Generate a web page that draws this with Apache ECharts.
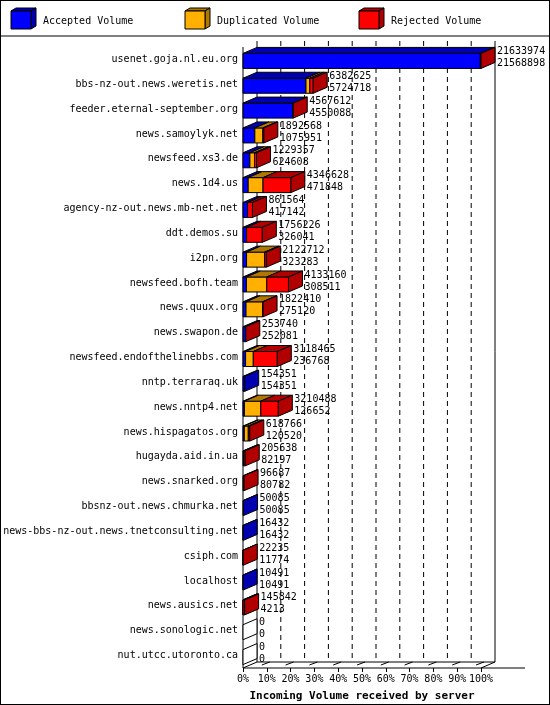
<!DOCTYPE html>
<html>
<head>
<meta charset="utf-8">
<script src="https://cdn.jsdelivr.net/npm/echarts@6/dist/echarts.min.js"></script>
<style>
  html, body { margin: 0; padding: 0; background: #fff; }
  #chart { width: 548px; height: 703px; border: 1px solid #000; }
</style>
</head>
<body>
<div id="chart"></div>
<script>
// servers, top to bottom
const servers = ['usenet.goja.nl.eu.org', 'bbs-nz-out.news.weretis.net', 'feeder.eternal-september.org',
  'news.samoylyk.net', 'newsfeed.xs3.de', 'news.1d4.us', 'agency-nz-out.news.mb-net.net', 'ddt.demos.su',
  'i2pn.org', 'newsfeed.bofh.team', 'news.quux.org', 'news.swapon.de', 'newsfeed.endofthelinebbs.com',
  'nntp.terraraq.uk', 'news.nntp4.net', 'news.hispagatos.org', 'hugayda.aid.in.ua', 'news.snarked.org',
  'bbsnz-out.news.chmurka.net', 'news-bbs-nz-out.news.tnetconsulting.net', 'csiph.com', 'localhost',
  'news.ausics.net', 'news.sonologic.net', 'nut.utcc.utoronto.ca'];
// total incoming volume
const totalVol = [21633974, 6382625, 4567612, 1892568, 1229357, 4346628, 861564, 1756226, 2122712, 4133160,
  1822410, 253740, 3118465, 154351, 3210488, 618766, 205638, 96687, 50085, 16432, 22235, 10491, 145842, 0, 0];
const acceptedVol = [21568898, 5724718, 4550088, 1075951, 624608, 471848, 417142, 326041, 323283, 308511,
  275120, 252081, 236768, 154351, 126652, 120520, 82197, 80782, 50085, 16432, 11774, 10491, 4213, 0, 0];
// duplicated volume, estimated from bar segments
const duplicatedVol = [0, 350000, 0, 730000, 420000, 1350000, 0, 0, 1640000, 1850000,
  1500000, 0, 700000, 0, 1490000, 360000, 0, 0, 0, 0, 0, 0, 0, 0, 0];
const xTicks = [0, 10, 20, 30, 40, 50, 60, 70, 80, 90, 100];

const maxVol = Math.max(...totalVol);
const pct = v => v / maxVol * 100;

const FONT = '"DejaVu Sans Mono", monospace';
const DX = 14, DY = 6;
const faces = {
  acc: ['#0000ff', '#0000b0'],
  dup: ['#ffb000', '#b07800'],
  rej: ['#ff0000', '#b00000']
};

const chart = echarts.init(document.getElementById('chart'));

function poly(points, fill) {
  return { type: 'polygon', shape: { points }, style: { fill, stroke: '#000', lineWidth: 1 } };
}

function renderBar(params, api) {
  const i = api.value(0);
  const acc = acceptedVol[i], dup = duplicatedVol[i], rej = totalVol[i] - acc - dup;
  const c = api.coord([0, i]);
  const yTop = c[1] - 6, yBot = c[1] + 9;
  const segs = [[acc, 'acc'], [dup, 'dup'], [rej, 'rej']];
  const children = [];
  let start = 0, lastKey = null;
  segs.forEach(([v, key]) => {
    if (v <= 0) return;
    const x0 = api.coord([pct(start), i])[0];
    const x1 = api.coord([pct(start + v), i])[0];
    children.push(poly([[x0, yTop], [x1, yTop], [x1, yBot], [x0, yBot]], faces[key][0]));
    children.push(poly([[x0, yTop], [x0 + DX, yTop - DY], [x1 + DX, yTop - DY], [x1, yTop]], faces[key][1]));
    start += v;
    lastKey = key;
  });
  const xe = api.coord([pct(start), i])[0];
  children.push(poly([[xe, yTop], [xe + DX, yTop - DY], [xe + DX, yBot - DY], [xe, yBot]],
    lastKey ? faces[lastKey][1] : '#fff'));
  children.push({
    type: 'text',
    style: {
      text: totalVol[i] + '\n' + acceptedVol[i],
      x: xe + DX + 2, y: c[1] - 2, verticalAlign: 'middle',
      font: '10px ' + FONT, fill: '#000', lineHeight: 12
    }
  });
  return { type: 'group', children };
}

function renderFrame(params, api) {
  const n = servers.length;
  const band = api.size([0, 1])[1];
  const top = api.coord([0, 0])[1] - band / 2 - 6;
  const bot = api.coord([0, n - 1])[1] + band / 2;
  const x0 = api.coord([0, 0])[0];
  const x100 = api.coord([100, 0])[0];
  const line = (a, b, dash) => ({
    type: 'line', shape: { x1: a[0], y1: a[1], x2: b[0], y2: b[1] },
    style: { stroke: '#000', lineWidth: 1, lineDash: dash ? [5, 4] : null }
  });
  const children = [
    line([x0, top + DY], [x0, bot]),
    line([x0 + DX, top], [x0 + DX, bot - DY]),
    line([x0, bot], [x0 + DX, bot - DY]),
    line([x0 + DX, bot - DY], [x100 + DX, bot - DY]),
    line([x100, bot], [x100 + DX, bot - DY]),
    line([x0, bot], [x100 + 44, bot]),
    line([x100 + DX, top], [x100 + DX, bot - DY])
  ];
  xTicks.forEach(t => {
    const x = api.coord([t, 0])[0];
    if (t > 0 && t < 100) children.push(line([x + DX, top], [x + DX, bot - DY], true));
    if (t > 0) children.push(line([x - 5, bot - 3], [x + 3, bot - 6]));
  });
  return { type: 'group', children };
}

chart.setOption({
  animation: false,
  grid: { left: 242, right: 68, top: 46, bottom: 36, containLabel: false, outerBoundsMode: 'none' },
  xAxis: {
    type: 'value', min: 0, max: 100, interval: 10,
    axisLine: { show: false }, splitLine: { show: false },
    axisTick: { show: true, length: 4, lineStyle: { color: '#000' } },
    axisLabel: { formatter: '{value}%', color: '#000', fontFamily: FONT, fontSize: 10, margin: 6,
      showMinLabel: true, showMaxLabel: true, hideOverlap: false },
    name: 'Incoming Volume received by server', nameLocation: 'middle', nameGap: 23,
    nameTextStyle: { color: '#000', fontFamily: FONT, fontSize: 11, fontWeight: 'bold' }
  },
  yAxis: {
    type: 'category', data: servers, inverse: true,
    axisLine: { show: false }, axisTick: { show: false },
    axisLabel: { color: '#000', fontFamily: FONT, fontSize: 10, margin: 5, interval: 0 }
  },
  graphic: [
    { type: 'line', shape: { x1: 0, y1: 35, x2: 548, y2: 35 }, style: { stroke: '#000' } },
    ...[[10, 'acc', 'Accepted Volume'], [184, 'dup', 'Duplicated Volume'], [358, 'rej', 'Rejected Volume']]
      .flatMap(([x, key, label]) => [
        { type: 'polygon', shape: { points: [[x, 10], [x + 5, 7], [x + 25, 7], [x + 20, 10]] },
          style: { fill: faces[key][1], stroke: '#000' } },
        { type: 'polygon', shape: { points: [[x + 20, 10], [x + 25, 7], [x + 25, 25], [x + 20, 28]] },
          style: { fill: faces[key][1], stroke: '#000' } },
        { type: 'rect', shape: { x, y: 10, width: 20, height: 18 }, style: { fill: faces[key][0], stroke: '#000' } },
        { type: 'text', x: x + 32, y: 20,
          style: { text: label, font: '10px ' + FONT, fill: '#000', verticalAlign: 'middle' } }
      ])
  ],
  series: [
    { type: 'custom', renderItem: renderFrame, data: [[0]], silent: true, z: 1 },
    { type: 'custom', renderItem: renderBar, data: servers.map((s, i) => [i]), encode: { x: [], y: 0 }, z: 2 }
  ]
});
</script>
</body>
</html>
